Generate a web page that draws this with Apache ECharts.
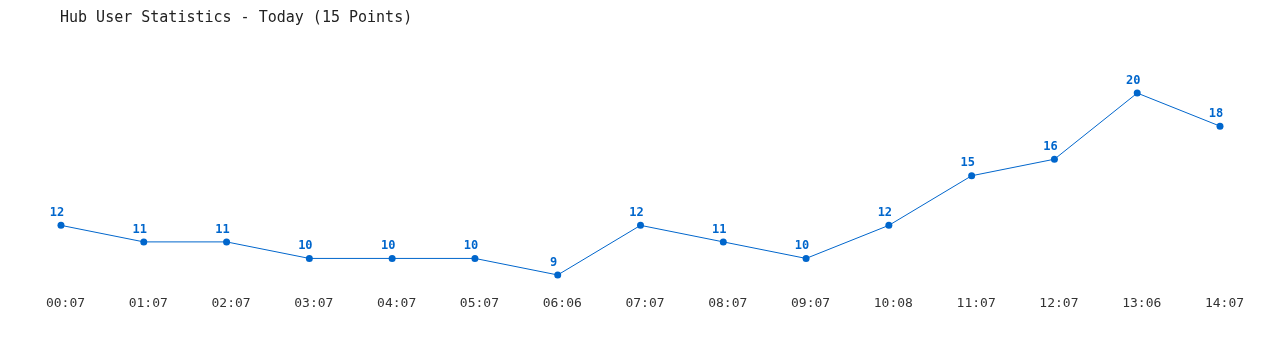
<!DOCTYPE html>
<html>
<head>
<meta charset="utf-8">
<script src="https://cdn.jsdelivr.net/npm/echarts@6/dist/echarts.min.js"></script>
<style>html,body{margin:0;padding:0;background:#fff}#c{width:1280px;height:350px}</style>
</head>
<body>
<div id="c"></div>
<script>
const categories = ['00:07','01:07','02:07','03:07','04:07','05:07','06:06','07:07','08:07','09:07','10:08','11:07','12:07','13:06','14:07'];
const users = [12,11,11,10,10,10,9,12,11,10,12,15,16,20,18];
const titleText = 'Hub User Statistics - Today (15 Points)';

const chart = echarts.init(document.getElementById('c'));
chart.setOption({
  animation: false,
  title: {
    text: titleText,
    left: 55, top: 6,
    textStyle: {fontFamily: 'DejaVu Sans Mono', fontSize: 15, fontWeight: 'normal', color: '#222'}
  },
  grid: {left: 19.6, right: 18.6, top: 60, bottom: 58.5},
  xAxis: {
    type: 'category',
    data: categories,
    boundaryGap: true,
    axisLine: {show: false},
    axisTick: {show: false},
    axisLabel: {fontFamily: 'DejaVu Sans Mono', fontSize: 13, color: '#333', margin: 6, interval: 0, padding: [0, 0, 0, 9]}
  },
  yAxis: {
    type: 'value', min: 8, max: 22, show: false,
    splitLine: {show: false}
  },
  series: [{
    type: 'line',
    data: users,
    symbol: 'circle',
    symbolSize: 7,
    lineStyle: {color: '#0066cc', width: 1},
    itemStyle: {color: '#0066cc'},
    label: {show: true, position: 'top', fontFamily: 'DejaVu Sans Mono', fontSize: 12, fontWeight: 'bold', color: '#0066cc', distance: 3, offset: [-4, 0]}
  }]
});
</script>
</body>
</html>
